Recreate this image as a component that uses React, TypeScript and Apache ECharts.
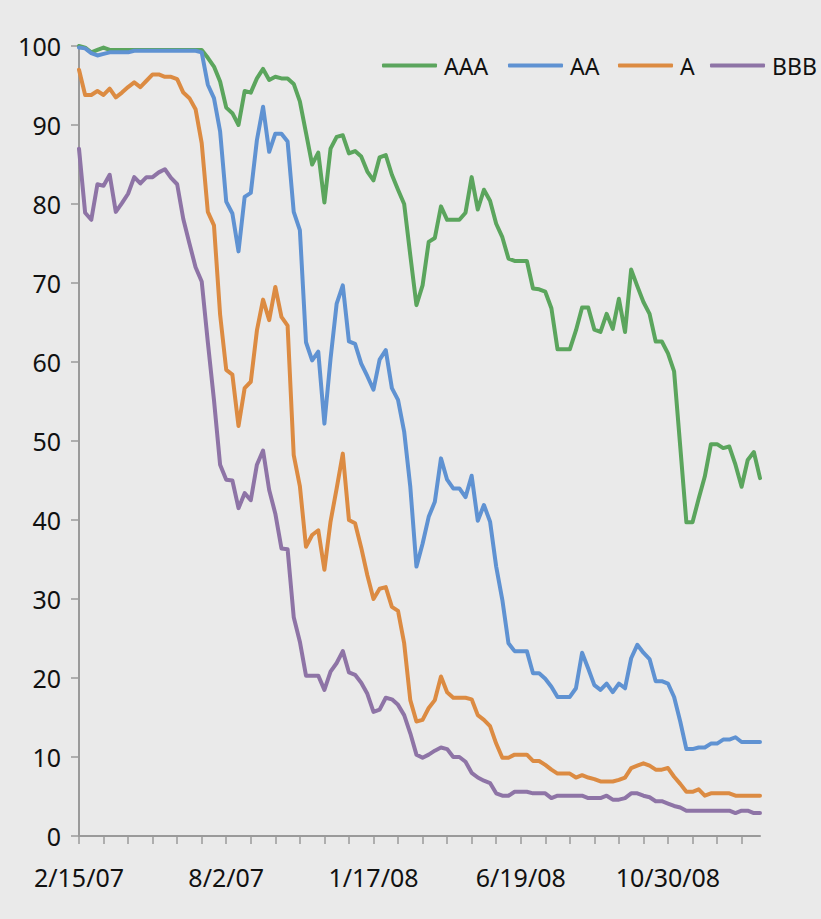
import React, { useEffect, useRef } from "react";
import * as echarts from "echarts";

const seriesNames = ["AAA", "AA", "A", "BBB"];
const tickLabels = ["2/15/07", "8/2/07", "1/17/08", "6/19/08", "10/30/08"];

const aaa = [
  100, 99.8, 99.2, 99.5, 99.8, 99.5, 99.5, 99.5, 99.5, 99.5,
  99.5, 99.5, 99.5, 99.5, 99.5, 99.5, 99.5, 99.5, 99.5, 99.5,
  99.5, 98.5, 97.4, 95.5, 92.2, 91.5, 90, 94.3, 94.1, 95.9,
  97.1, 95.7, 96.1, 95.9, 95.9, 95.2, 93, 89, 85, 86.5,
  80.2, 87, 88.5, 88.7, 86.4, 86.7, 86, 84.1, 83, 85.9,
  86.2, 83.7, 81.8, 80, 73.5, 67.2, 69.7, 75.2, 75.7, 79.7,
  78, 78, 78, 78.9, 83.4, 79.3, 81.8, 80.4, 77.5, 75.8,
  73.1, 72.8, 72.8, 72.8, 69.3, 69.2, 68.9, 66.8, 61.6, 61.6,
  61.6, 64, 66.9, 66.9, 64.1, 63.8, 66.1, 64.2, 68, 63.8,
  71.7, 69.6, 67.6, 66.1, 62.6, 62.6, 61.1, 58.8, 49.3, 39.7,
  39.7, 42.7, 45.5, 49.6, 49.6, 49.1, 49.3, 47, 44.2, 47.6,
  48.6, 45.3,
];

const aa = [
  99.8, 99.7, 99.1, 98.8, 99, 99.2, 99.2, 99.2, 99.2, 99.4,
  99.4, 99.4, 99.4, 99.4, 99.4, 99.4, 99.4, 99.4, 99.4, 99.4,
  99.2, 95.1, 93.4, 89.2, 80.3, 78.8, 74, 80.9, 81.4, 88.1,
  92.3, 86.6, 88.9, 88.9, 87.9, 79, 76.7, 62.5, 60.2, 61.3,
  52.2, 60.4, 67.4, 69.7, 62.6, 62.3, 59.8, 58.2, 56.5, 60.3,
  61.5, 56.7, 55.2, 51.2, 44.2, 34.1, 37, 40.4, 42.3, 47.8,
  45.1, 44, 44, 42.9, 45.6, 39.9, 41.9, 39.8, 34.1, 29.9,
  24.4, 23.4, 23.4, 23.4, 20.6, 20.6, 19.9, 18.9, 17.6, 17.6,
  17.6, 18.7, 23.2, 21.2, 19.1, 18.5, 19.3, 18.2, 19.3, 18.7,
  22.5, 24.2, 23.2, 22.4, 19.6, 19.6, 19.3, 17.6, 14.5, 11,
  11, 11.2, 11.2, 11.7, 11.7, 12.2, 12.2, 12.5, 11.9, 11.9,
  11.9, 11.9,
];

const a = [
  97, 93.8, 93.8, 94.3, 93.8, 94.6, 93.5, 94.1, 94.8, 95.4,
  94.8, 95.6, 96.4, 96.4, 96.1, 96.1, 95.8, 94.1, 93.4, 92,
  87.7, 79, 77.3, 66, 59, 58.4, 51.9, 56.7, 57.5, 64,
  67.9, 65.3, 69.5, 65.7, 64.6, 48.2, 44.3, 36.6, 38.1, 38.7,
  33.7, 39.8, 44, 48.4, 40, 39.6, 36.5, 33, 30, 31.3,
  31.5, 29, 28.5, 24.4, 17.2, 14.5, 14.7, 16.2, 17.2, 20.2,
  18.2, 17.5, 17.5, 17.5, 17.3, 15.3, 14.7, 13.9, 11.7, 9.9,
  9.9, 10.3, 10.3, 10.3, 9.5, 9.5, 9, 8.4, 7.9, 7.9,
  7.9, 7.4, 7.7, 7.4, 7.2, 6.9, 6.9, 6.9, 7.1, 7.4,
  8.6, 8.9, 9.2, 8.9, 8.4, 8.4, 8.6, 7.5, 6.6, 5.6,
  5.6, 5.9, 5.1, 5.4, 5.4, 5.4, 5.4, 5.1, 5.1, 5.1,
  5.1, 5.1,
];

const bbb = [
  87, 78.9, 78, 82.5, 82.3, 83.7, 79, 80.1, 81.3, 83.4,
  82.6, 83.4, 83.4, 84, 84.4, 83.3, 82.5, 78.1, 75, 72,
  70.2, 62.5, 55.2, 47, 45.1, 45, 41.5, 43.4, 42.5, 47,
  48.8, 43.8, 40.8, 36.4, 36.3, 27.7, 24.6, 20.3, 20.3, 20.3,
  18.5, 20.8, 21.9, 23.4, 20.7, 20.4, 19.4, 18, 15.7, 16,
  17.5, 17.3, 16.6, 15.3, 13, 10.3, 9.9, 10.3, 10.8, 11.2,
  11, 10, 10, 9.4, 8, 7.4, 7, 6.7, 5.4, 5.1,
  5.1, 5.6, 5.6, 5.6, 5.4, 5.4, 5.4, 4.8, 5.1, 5.1,
  5.1, 5.1, 5.1, 4.8, 4.8, 4.8, 5.1, 4.6, 4.6, 4.8,
  5.4, 5.4, 5.1, 4.9, 4.4, 4.4, 4.1, 3.8, 3.6, 3.2,
  3.2, 3.2, 3.2, 3.2, 3.2, 3.2, 3.2, 2.9, 3.2, 3.2,
  2.9, 2.9,
];

const categories = aaa.map((_, i) => String(i));
const LABEL_STEP = 24;

const colors = ["#5BA55D", "#5F92D2", "#DC8B42", "#8E74A6"];
const seriesData = [aaa, aa, a, bbb];
const legendLefts = [382, 508, 618, 710];
const FONT = "'Noto Sans', 'Open Sans', sans-serif";

export default function App() {
  const ref = useRef<HTMLDivElement>(null);

  useEffect(() => {
    if (!ref.current) return;
    const chart = echarts.init(ref.current, undefined, { renderer: "svg" });
    chart.setOption({
      animation: false,
      backgroundColor: "#EAEAEA",
      textStyle: { fontFamily: FONT },
      legend: seriesNames.map((name, i) => ({
        left: legendLefts[i],
        top: 54,
        padding: 0,
        icon: "roundRect",
        itemWidth: 55,
        itemHeight: 4,
        textStyle: {
          fontSize: 23,
          color: "#111",
          fontFamily: FONT,
          padding: [0, 0, 0, 2],
        },
        data: [name],
      })),
      grid: { left: 79, right: 61, top: 46, bottom: 83, containLabel: false },
      xAxis: {
        type: "category",
        data: categories,
        boundaryGap: false,
        axisLine: { show: true, lineStyle: { color: "#9A9A9A", width: 2 } },
        axisTick: {
          show: true,
          interval: 3,
          length: 8,
          lineStyle: { color: "#9A9A9A", width: 1.5 },
        },
        axisLabel: {
          interval: LABEL_STEP - 1,
          margin: 28,
          fontSize: 25,
          color: "#111",
          fontFamily: FONT,
          formatter: (_v: string, idx: number) =>
            idx % LABEL_STEP === 0 ? tickLabels[idx / LABEL_STEP] ?? "" : "",
        },
        splitLine: { show: false },
      },
      yAxis: {
        type: "value",
        min: 0,
        max: 100,
        interval: 10,
        axisLine: { show: true, lineStyle: { color: "#9A9A9A", width: 2 } },
        axisTick: { show: true, length: 8, lineStyle: { color: "#9A9A9A", width: 1.5 } },
        axisLabel: { margin: 18, fontSize: 25, color: "#111", fontFamily: FONT },
        splitLine: { show: false },
      },
      series: seriesNames.map((name, i) => ({
        name,
        type: "line",
        data: seriesData[i],
        symbol: "none",
        color: colors[i],
        itemStyle: { color: colors[i] },
        lineStyle: { width: 4, color: colors[i], cap: "round", join: "round" },
      })),
    });
    return () => chart.dispose();
  }, []);

  return (
    <div
      ref={ref}
      style={{ position: "fixed", left: 0, top: 0, width: 821, height: 919 }}
    />
  );
}
